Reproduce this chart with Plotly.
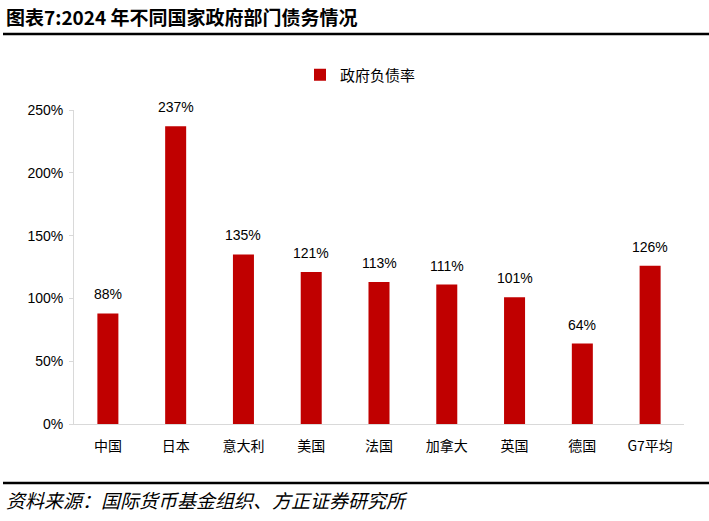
import plotly.graph_objects as go

categories = ["中国", "日本", "意大利", "美国", "法国", "加拿大", "英国", "德国", "G7平均"]
debt_ratio = [88, 237, 135, 121, 113, 111, 101, 64, 126]
y_ticks = [0, 50, 100, 150, 200, 250]
y_tick_labels = ["0%", "50%", "100%", "150%", "200%", "250%"]

title_text = "图表7:2024 年不同国家政府部门债务情况"
source_text = "资料来源：国际货币基金组织、方正证券研究所"
series_name = "政府负债率"

RED = "#C00000"
CJK = "Noto Sans CJK SC"
LAT = "Liberation Sans, Arial"

fig = go.Figure()
fig.add_trace(go.Bar(
    x=categories, y=debt_ratio, name=series_name,
    marker=dict(color=RED, line=dict(width=0)),
    cliponaxis=False,
))

for c, v in zip(categories, debt_ratio):
    fig.add_annotation(x=c, y=v, xref="x", yref="y", text=f"{v}%",
                       showarrow=False, yanchor="middle", yshift=19,
                       font=dict(family=LAT, size=14, color="#000000"))

W, H = 709, 521
L, R, T, B = 74, 25, 110, 97
pw = W - L - R
ph = H - T - B

def py(pix):
    return 1 - (pix - T) / ph

def px(pix):
    return (pix - L) / pw

fig.update_layout(
    width=W, height=H,
    margin=dict(l=L, r=R, t=T, b=B, autoexpand=False),
    paper_bgcolor="white", plot_bgcolor="white",
    bargap=0.69,
    showlegend=True,
    legend=dict(orientation="h", x=px(300), xanchor="left",
                y=py(75), yanchor="middle",
                font=dict(family=CJK, size=15, color="#000000"),
                itemwidth=30, bgcolor="rgba(0,0,0,0)"),
    xaxis=dict(showline=True, linecolor="#d9d9d9", linewidth=1, ticks="",
               showgrid=False, tickfont=dict(family=CJK, size=14, color="#000000"),
               ticklabelstandoff=9,
               automargin=False, fixedrange=True),
    yaxis=dict(range=[0, 250], tickvals=y_ticks, ticktext=y_tick_labels,
               showline=True, linecolor="#d9d9d9", linewidth=1,
               ticks="outside", ticklen=4, tickcolor="#d9d9d9",
               ticklabelstandoff=3,
               showgrid=False, zeroline=False, automargin=False, fixedrange=True,
               tickfont=dict(family=LAT, size=14, color="#000000")),
    font=dict(family=CJK),
)

fig.add_annotation(xref="paper", yref="paper", x=px(4), y=py(17),
                   xanchor="left", yanchor="middle", showarrow=False,
                   text="<b>" + title_text + "</b>",
                   font=dict(family=CJK, size=19, color="#000000"))
fig.add_shape(type="line", xref="paper", yref="paper",
              x0=px(3), x1=px(W),
              y0=py(34), y1=py(34), line=dict(color="#000000", width=2.5))
fig.add_shape(type="line", xref="paper", yref="paper",
              x0=px(3), x1=px(W),
              y0=py(483), y1=py(483), line=dict(color="#000000", width=2.5))
fig.add_annotation(xref="paper", yref="paper", x=px(4), y=py(499),
                   xanchor="left", yanchor="middle", showarrow=False,
                   text="<i>" + source_text + "</i>",
                   font=dict(family=CJK, size=19, color="#000000"))

fig.write_html("out.html", config={"displayModeBar": False},
               post_script="document.body.style.margin='0';document.body.style.overflow='hidden';")
